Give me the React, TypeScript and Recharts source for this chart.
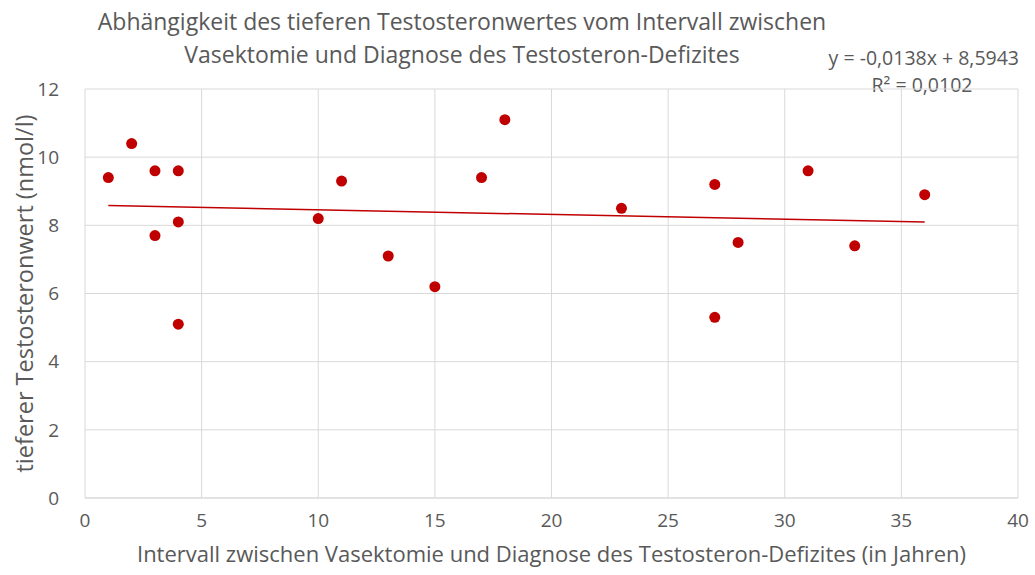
import { ScatterChart, Scatter, XAxis, YAxis, CartesianGrid, Label } from 'recharts'

const intervalYears = [1, 2, 3, 3, 4, 4, 4, 10, 11, 13, 15, 17, 18, 23, 27, 27, 28, 31, 33, 36]
const testosterone = [9.4, 10.4, 9.6, 7.7, 9.6, 8.1, 5.1, 8.2, 9.3, 7.1, 6.2, 9.4, 11.1, 8.5, 9.2, 5.3, 7.5, 9.6, 7.4, 8.9]

// trend line endpoints (from y = -0,0138x + 8,5943)
const trendX = [1, 36]
const trendY = [8.58, 8.097]

const xTicks = [0, 5, 10, 15, 20, 25, 30, 35, 40]
const yTicks = [0, 2, 4, 6, 8, 10, 12]

const points = intervalYears.map((x, i) => ({ x, y: testosterone[i] }))
const trend = trendX.map((x, i) => ({ x, y: trendY[i] }))

const FONT = '"Open Sans", sans-serif'
const TEXT = '#595959'

export default function App() {
  return (
    <div style={{ position: 'absolute', left: 0, top: 0, width: 1035, height: 575, background: '#fff', fontFamily: FONT }}>
      <div style={{ position: 'absolute', left: 0, width: 924, top: 5, textAlign: 'center', color: TEXT, fontSize: 23, lineHeight: '33px' }}>
        Abhängigkeit des tieferen Testosteronwertes vom Intervall zwischen
        <br />
        Vasektomie und Diagnose des Testosteron-Defizites
      </div>
      <div style={{ position: 'absolute', right: 16, top: 45, textAlign: 'right', color: TEXT, fontSize: 19.5, lineHeight: '26px' }}>
        y = -0,0138x + 8,5943
      </div>
      <div style={{ position: 'absolute', left: 860, width: 124, top: 72, textAlign: 'center', color: TEXT, fontSize: 19.5, lineHeight: '26px' }}>
        R² = 0,0102
      </div>
      <ScatterChart width={1035} height={575} margin={{ top: 89, right: 17, bottom: 17, left: 20 }} style={{ position: 'absolute', left: 0, top: 0 }}>
        <CartesianGrid stroke="#d9d9d9" />
        <XAxis
          type="number"
          dataKey="x"
          domain={[0, 40]}
          ticks={xTicks}
          axisLine={{ stroke: '#d9d9d9' }}
          tickLine={false}
          tick={{ fill: TEXT, fontSize: 19, fontFamily: FONT }}
          tickMargin={10}
          height={60}
        >
          <Label value="Intervall zwischen Vasektomie und Diagnose des Testosteron-Defizites (in Jahren)" position="insideBottom" offset={-4} fill={TEXT} fontSize={22} fontFamily={FONT} />
        </XAxis>
        <YAxis
          type="number"
          dataKey="y"
          domain={[0, 12]}
          ticks={yTicks}
          axisLine={false}
          tickLine={false}
          tick={{ fill: TEXT, fontSize: 19, fontFamily: FONT }}
          tickMargin={20}
          width={65}
        >
          <Label value="tieferer Testosteronwert (nmol/l)" angle={-90} position="center" dx={-28} fill={TEXT} fontSize={23.5} fontFamily={FONT} />
        </YAxis>
        <Scatter data={points} fill="#c00000" isAnimationActive={false} shape={(p: any) => <circle cx={p.cx} cy={p.cy} r={5.5} fill="#c00000" />} />
        <Scatter data={trend} line={{ stroke: '#c00000', strokeWidth: 1.5 }} shape={() => null} isAnimationActive={false} />
      </ScatterChart>
    </div>
  )
}
